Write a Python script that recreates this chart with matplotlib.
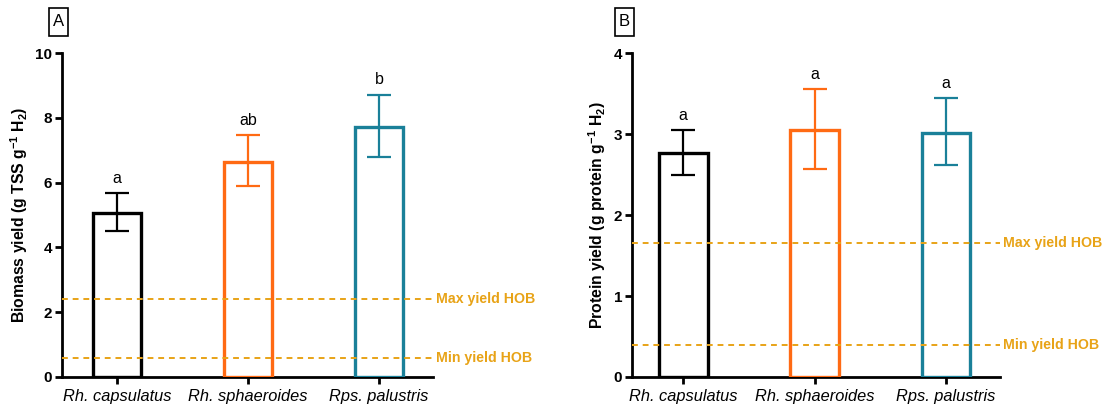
import matplotlib.pyplot as plt
from matplotlib.patches import Rectangle
import numpy as np

plt.rcParams['font.family'] = ['Liberation Sans', 'DejaVu Sans']
plt.rcParams['mathtext.fontset'] = 'custom'
plt.rcParams['mathtext.rm'] = 'Liberation Sans:bold'
plt.rcParams['mathtext.bf'] = 'Liberation Sans:bold'
plt.rcParams['mathtext.it'] = 'Liberation Sans:bold'

# data
strains = ['Rh. capsulatus', 'Rh. sphaeroides', 'Rps. palustris']
colors = ['#000000', '#FF6A13', '#1A8099']

biomass_mean = [5.05, 6.65, 7.72]
biomass_low = [4.52, 5.90, 6.80]
biomass_high = [5.67, 7.47, 8.72]
biomass_letters = ['a', 'ab', 'b']
biomass_hob = [2.42, 0.58]   # max, min

protein_mean = [2.77, 3.05, 3.01]
protein_low = [2.50, 2.57, 2.62]
protein_high = [3.05, 3.56, 3.44]
protein_letters = ['a', 'a', 'a']
protein_hob = [1.66, 0.39]

hob_color = '#E8A317'


def draw_panel(ax, mean, low, high, letters, hob, ylim, yticks, ylabel, xlim):
    x = np.arange(len(strains))
    for i in range(len(strains)):
        ax.bar(x[i], mean[i], width=0.37, facecolor='white', edgecolor=colors[i],
               linewidth=2.4, zorder=3)
        ax.errorbar(x[i], mean[i],
                    yerr=[[mean[i] - low[i]], [high[i] - mean[i]]],
                    color=colors[i], capsize=8.5, capthick=1.6, elinewidth=1.6, zorder=4)
        ax.text(x[i], high[i] + (ylim[1] - ylim[0]) * 0.022, letters[i],
                ha='center', va='bottom', fontsize=11.5)
    for val, lab in zip(hob, ['Max yield HOB', 'Min yield HOB']):
        ax.axhline(val, color=hob_color, linestyle=(0, (3, 2.5)), linewidth=1.4, zorder=5)
        ax.text(1.01, val, lab, transform=ax.get_yaxis_transform(), color=hob_color,
                fontweight='bold', fontsize=10.2, va='center', ha='left', clip_on=False)
    ax.set_xlim(xlim)
    ax.set_ylim(ylim)
    ax.set_yticks(yticks)
    ax.set_xticks(x)
    ax.set_xticklabels(strains, style='italic', fontsize=11.8)
    for lbl in ax.get_yticklabels():
        lbl.set_fontweight('bold')
        lbl.set_fontsize(11)
    ax.set_ylabel(ylabel, fontweight='bold', fontsize=11.3, labelpad=4)
    ax.spines['top'].set_visible(False)
    ax.spines['right'].set_visible(False)
    ax.spines['left'].set_linewidth(2)
    ax.spines['bottom'].set_linewidth(2)
    ax.tick_params(axis='both', width=2, length=5, direction='out')
    ax.tick_params(axis='y', pad=2)


fig = plt.figure(figsize=(11.04, 4.12), dpi=100)
axA = fig.add_axes([0.056, 0.085, 0.336, 0.786])
axB = fig.add_axes([0.5725, 0.085, 0.333, 0.786])

draw_panel(axA, biomass_mean, biomass_low, biomass_high, biomass_letters, biomass_hob,
           (0, 10), [0, 2, 4, 6, 8, 10],
           'Biomass yield (g TSS g$^{-1}$ H$_{2}$)', (-0.42, 2.41))
draw_panel(axB, protein_mean, protein_low, protein_high, protein_letters, protein_hob,
           (0, 4), [0, 1, 2, 3, 4],
           'Protein yield (g protein g$^{-1}$ H$_{2}$)', (-0.39, 2.41))

# boxed panel labels
W, H = 1104.0, 412.0
for cx, lab in [(58.5, 'A'), (624.5, 'B')]:
    fig.patches.append(Rectangle(((cx - 9.5) / W, 1 - 35.5 / H), 19 / W, 28 / H,
                                 transform=fig.transFigure, facecolor='white',
                                 edgecolor='black', linewidth=1.2))
    fig.text(cx / W, 1 - 22 / H, lab, fontsize=12, ha='center', va='center')

fig.savefig('out.png', dpi=100)
